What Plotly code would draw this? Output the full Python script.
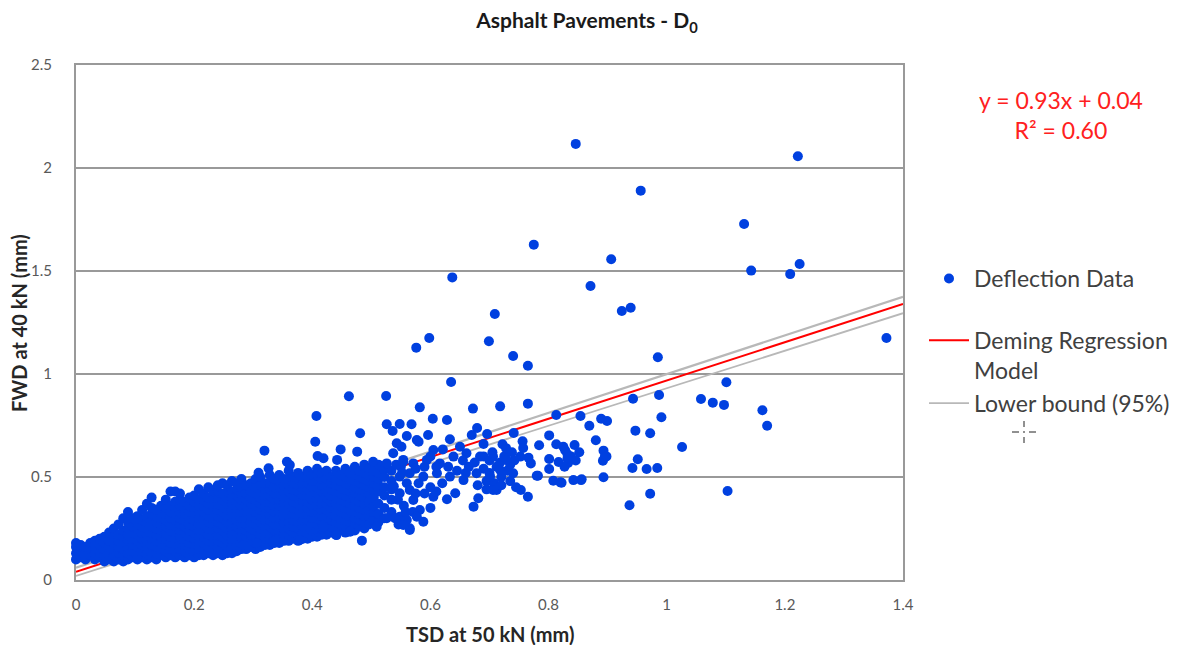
import plotly.graph_objects as go

# ---------------- data ----------------
# dense core of the cloud: one TSD value per column with the FWD values stacked in it
cluster_x = [0.000, 0.008, 0.016, 0.024, 0.032, 0.040, 0.048, 0.056, 0.064, 0.072,
             0.080, 0.088, 0.096, 0.104, 0.112, 0.120, 0.128, 0.136, 0.144, 0.152,
             0.160, 0.168, 0.176, 0.184, 0.192, 0.200, 0.208, 0.216, 0.224, 0.232,
             0.240, 0.248, 0.256, 0.264, 0.272, 0.280, 0.288, 0.296, 0.304, 0.312,
             0.320, 0.328, 0.336, 0.344, 0.352, 0.360, 0.368, 0.376, 0.384, 0.392,
             0.400, 0.408, 0.416, 0.424, 0.432, 0.440, 0.448, 0.456, 0.464, 0.472,
             0.480, 0.488, 0.496, 0.504, 0.512, 0.522, 0.534]
cluster_y = [
    [0.10, 0.13, 0.16, 0.18],
    [0.11, 0.14, 0.17],
    [0.10, 0.13, 0.16],
    [0.12, 0.15, 0.18],
    [0.10, 0.13, 0.16, 0.19],
    [0.11, 0.14, 0.17, 0.20],
    [0.09, 0.12, 0.15, 0.18, 0.21],
    [0.10, 0.13, 0.16, 0.19, 0.23],
    [0.09, 0.12, 0.15, 0.18, 0.21, 0.25],
    [0.10, 0.13, 0.16, 0.19, 0.22, 0.27],
    [0.09, 0.12, 0.15, 0.18, 0.21, 0.24, 0.30],
    [0.10, 0.13, 0.16, 0.19, 0.22, 0.25, 0.28, 0.33],
    [0.11, 0.14, 0.17, 0.20, 0.23, 0.26, 0.30],
    [0.10, 0.13, 0.16, 0.19, 0.22, 0.25, 0.28, 0.31],
    [0.11, 0.14, 0.17, 0.20, 0.23, 0.26, 0.29, 0.34],
    [0.10, 0.13, 0.16, 0.19, 0.22, 0.25, 0.28, 0.31, 0.37],
    [0.11, 0.14, 0.17, 0.20, 0.23, 0.26, 0.29, 0.32, 0.35, 0.40],
    [0.10, 0.13, 0.16, 0.19, 0.22, 0.25, 0.28, 0.31, 0.34],
    [0.12, 0.15, 0.18, 0.21, 0.24, 0.27, 0.30, 0.33, 0.36],
    [0.11, 0.14, 0.17, 0.20, 0.23, 0.26, 0.29, 0.32, 0.35, 0.39],
    [0.12, 0.15, 0.18, 0.21, 0.24, 0.27, 0.30, 0.33, 0.36, 0.43],
    [0.11, 0.14, 0.17, 0.20, 0.23, 0.26, 0.29, 0.32, 0.35, 0.38, 0.43],
    [0.12, 0.15, 0.18, 0.21, 0.24, 0.27, 0.30, 0.33, 0.36, 0.39, 0.42],
    [0.11, 0.14, 0.17, 0.20, 0.23, 0.26, 0.29, 0.32, 0.35, 0.38],
    [0.12, 0.15, 0.18, 0.21, 0.24, 0.27, 0.30, 0.33, 0.36, 0.40],
    [0.11, 0.14, 0.17, 0.20, 0.23, 0.26, 0.29, 0.32, 0.35, 0.38, 0.41],
    [0.12, 0.15, 0.18, 0.21, 0.24, 0.27, 0.30, 0.33, 0.36, 0.39, 0.44],
    [0.12, 0.15, 0.18, 0.21, 0.24, 0.27, 0.30, 0.33, 0.36, 0.39, 0.42],
    [0.13, 0.16, 0.19, 0.22, 0.25, 0.28, 0.31, 0.34, 0.37, 0.40, 0.45],
    [0.12, 0.15, 0.18, 0.21, 0.24, 0.27, 0.30, 0.33, 0.36, 0.39, 0.43],
    [0.13, 0.16, 0.19, 0.22, 0.25, 0.28, 0.31, 0.34, 0.37, 0.40, 0.43, 0.46],
    [0.12, 0.15, 0.18, 0.21, 0.24, 0.27, 0.30, 0.33, 0.36, 0.39, 0.42, 0.47],
    [0.13, 0.16, 0.19, 0.22, 0.25, 0.28, 0.31, 0.34, 0.37, 0.40, 0.43, 0.46],
    [0.13, 0.16, 0.19, 0.22, 0.25, 0.28, 0.31, 0.34, 0.37, 0.40, 0.43, 0.48],
    [0.14, 0.17, 0.20, 0.23, 0.26, 0.29, 0.32, 0.35, 0.38, 0.41, 0.44, 0.47],
    [0.15, 0.18, 0.21, 0.24, 0.27, 0.30, 0.33, 0.36, 0.39, 0.42, 0.45, 0.49],
    [0.15, 0.18, 0.21, 0.24, 0.27, 0.30, 0.33, 0.36, 0.39, 0.42, 0.46],
    [0.16, 0.19, 0.22, 0.25, 0.28, 0.31, 0.34, 0.37, 0.40, 0.43, 0.47],
    [0.15, 0.18, 0.21, 0.24, 0.27, 0.30, 0.33, 0.36, 0.39, 0.42, 0.45, 0.49],
    [0.16, 0.19, 0.22, 0.25, 0.28, 0.31, 0.34, 0.37, 0.40, 0.43, 0.46, 0.50],
    [0.17, 0.20, 0.23, 0.26, 0.29, 0.32, 0.35, 0.38, 0.41, 0.44, 0.47],
    [0.17, 0.20, 0.23, 0.26, 0.29, 0.32, 0.35, 0.38, 0.41, 0.44, 0.47, 0.51],
    [0.18, 0.21, 0.24, 0.27, 0.30, 0.33, 0.36, 0.39, 0.42, 0.45, 0.49],
    [0.18, 0.21, 0.24, 0.27, 0.30, 0.33, 0.36, 0.39, 0.42, 0.45, 0.48, 0.51],
    [0.19, 0.22, 0.25, 0.28, 0.31, 0.34, 0.37, 0.40, 0.43, 0.46, 0.49],
    [0.19, 0.22, 0.25, 0.28, 0.31, 0.34, 0.37, 0.40, 0.43, 0.46, 0.49, 0.53],
    [0.20, 0.23, 0.26, 0.29, 0.32, 0.35, 0.38, 0.41, 0.44, 0.47, 0.50],
    [0.19, 0.22, 0.25, 0.28, 0.31, 0.34, 0.37, 0.40, 0.43, 0.46, 0.49, 0.52],
    [0.20, 0.23, 0.26, 0.29, 0.32, 0.35, 0.38, 0.41, 0.44, 0.47, 0.50],
    [0.20, 0.23, 0.26, 0.29, 0.32, 0.35, 0.38, 0.41, 0.44, 0.47, 0.50, 0.53],
    [0.21, 0.24, 0.27, 0.30, 0.33, 0.36, 0.39, 0.42, 0.45, 0.48, 0.51],
    [0.21, 0.24, 0.27, 0.30, 0.33, 0.36, 0.39, 0.42, 0.45, 0.48, 0.51, 0.54],
    [0.22, 0.25, 0.28, 0.31, 0.34, 0.37, 0.40, 0.43, 0.46, 0.49, 0.52],
    [0.22, 0.25, 0.28, 0.31, 0.34, 0.37, 0.40, 0.43, 0.46, 0.49, 0.53],
    [0.23, 0.26, 0.29, 0.32, 0.35, 0.38, 0.41, 0.44, 0.47, 0.50],
    [0.22, 0.25, 0.28, 0.31, 0.34, 0.37, 0.40, 0.43, 0.46, 0.49, 0.53],
    [0.24, 0.27, 0.30, 0.33, 0.36, 0.39, 0.42, 0.45, 0.48, 0.51],
    [0.23, 0.26, 0.29, 0.32, 0.35, 0.38, 0.41, 0.44, 0.47, 0.50, 0.54],
    [0.25, 0.28, 0.31, 0.34, 0.37, 0.40, 0.43, 0.46, 0.49, 0.52],
    [0.24, 0.27, 0.30, 0.33, 0.36, 0.39, 0.42, 0.45, 0.48, 0.51, 0.55],
    [0.26, 0.29, 0.32, 0.35, 0.38, 0.41, 0.44, 0.47, 0.50, 0.53],
    [0.25, 0.28, 0.31, 0.34, 0.37, 0.40, 0.43, 0.46, 0.49, 0.52, 0.56],
    [0.27, 0.31, 0.34, 0.38, 0.42, 0.45, 0.48, 0.51, 0.54],
    [0.29, 0.33, 0.36, 0.40, 0.44, 0.47, 0.50, 0.53],
    [0.28, 0.32, 0.37, 0.43, 0.46, 0.49, 0.52, 0.56],
    [0.30, 0.35, 0.41, 0.45, 0.50, 0.54],
    [0.33, 0.39, 0.44, 0.48, 0.53],
]

# scattered points around and beyond the core (TSD, FWD)
scatter_points = [
    # high outliers
    (0.846, 2.117), (1.222, 2.057), (0.956, 1.890), (1.131, 1.728), (0.775, 1.628),
    (0.906, 1.557), (1.143, 1.502), (1.225, 1.534), (1.209, 1.485), (0.871, 1.427),
    (0.924, 1.306), (0.939, 1.322), (0.709, 1.291), (0.699, 1.159), (0.740, 1.087),
    (0.765, 1.040), (0.985, 1.081), (1.372, 1.175), (1.101, 0.960), (0.637, 1.469),
    (0.598, 1.175), (0.576, 1.128), (0.635, 0.961),
    # middle band, TSD 0.55 - 1.2
    (0.718, 0.843), (0.765, 0.856), (0.943, 0.880), (0.987, 0.898), (1.058, 0.879),
    (1.078, 0.861), (1.097, 0.850), (1.162, 0.824), (1.170, 0.749), (0.813, 0.801),
    (0.854, 0.796), (0.869, 0.749), (0.889, 0.783), (0.899, 0.772), (0.991, 0.790),
    (0.947, 0.725), (0.972, 0.712), (1.026, 0.646), (0.741, 0.714), (0.696, 0.709),
    (0.801, 0.702), (0.880, 0.678), (0.756, 0.673), (0.722, 0.659), (0.784, 0.654),
    (0.813, 0.659), (0.825, 0.647), (0.844, 0.655), (0.757, 0.641), (0.893, 0.628),
    (0.852, 0.620), (0.832, 0.610), (0.895, 0.596), (0.766, 0.594), (0.801, 0.587),
    (0.817, 0.573), (0.833, 0.568), (0.770, 0.566), (0.892, 0.579), (0.951, 0.586),
    (0.942, 0.544), (0.966, 0.539), (0.984, 0.544), (0.801, 0.539), (0.782, 0.506),
    (0.808, 0.482), (0.820, 0.474), (0.856, 0.489), (0.893, 0.499), (1.103, 0.432),
    (0.972, 0.419), (0.937, 0.363), (0.753, 0.437), (0.765, 0.404),
    (0.690, 0.600), (0.700, 0.580), (0.705, 0.620), (0.712, 0.550), (0.718, 0.570),
    (0.725, 0.600), (0.730, 0.530), (0.735, 0.560), (0.700, 0.520), (0.695, 0.480),
    (0.708, 0.470), (0.720, 0.500), (0.690, 0.660), (0.742, 0.580), (0.738, 0.620),
    (0.728, 0.640), (0.828, 0.630), (0.838, 0.600), (0.846, 0.580), (0.832, 0.590),
    (0.827, 0.550), (0.898, 0.600), (0.822, 0.472), (0.855, 0.485),
    (0.582, 0.838), (0.672, 0.832), (0.604, 0.783), (0.628, 0.777), (0.568, 0.756),
    (0.548, 0.757), (0.679, 0.738), (0.560, 0.699), (0.596, 0.704), (0.633, 0.683),
    (0.580, 0.671), (0.670, 0.704), (0.605, 0.631), (0.621, 0.634), (0.650, 0.647),
    (0.554, 0.583), (0.571, 0.566), (0.594, 0.583), (0.616, 0.566), (0.639, 0.599),
    (0.661, 0.615), (0.684, 0.599), (0.706, 0.599), (0.729, 0.583), (0.752, 0.599),
    (0.548, 0.502), (0.565, 0.518), (0.588, 0.502), (0.611, 0.518), (0.633, 0.502),
    (0.656, 0.485), (0.678, 0.518), (0.701, 0.502), (0.718, 0.534), (0.740, 0.518),
    (0.780, 0.506), (0.842, 0.485), (0.565, 0.437), (0.605, 0.404), (0.628, 0.392),
    (0.642, 0.421), (0.673, 0.356), (0.681, 0.397), (0.712, 0.437), (0.548, 0.421),
    (0.548, 0.307), (0.560, 0.291), (0.582, 0.340), (0.588, 0.283), (0.565, 0.251),
    (0.571, 0.388), (0.665, 0.550), (0.675, 0.570), (0.690, 0.540), (0.660, 0.520),
    (0.680, 0.460), (0.695, 0.440), (0.720, 0.460), (0.735, 0.480), (0.745, 0.450),
    (0.655, 0.580), (0.645, 0.530), (0.620, 0.470), (0.600, 0.450), (0.580, 0.470),
    (0.575, 0.540), (0.590, 0.550), (0.610, 0.550), (0.630, 0.550), (0.600, 0.600),
    (0.550, 0.550), (0.560, 0.470), (0.555, 0.360), (0.575, 0.420), (0.590, 0.420),
    (0.610, 0.430), (0.570, 0.330), (0.600, 0.350), (0.565, 0.243), (0.706, 0.437),
    (0.545, 0.390), (0.538, 0.455), (0.552, 0.520), (0.542, 0.560), (0.558, 0.330),
    (0.540, 0.300), (0.546, 0.270),
    # edges of the core, TSD 0.28 - 0.58
    (0.407, 0.796), (0.462, 0.892), (0.525, 0.893), (0.526, 0.756), (0.536, 0.723),
    (0.481, 0.712), (0.405, 0.671), (0.319, 0.628), (0.448, 0.634), (0.476, 0.623),
    (0.409, 0.602), (0.419, 0.591), (0.442, 0.583), (0.577, 0.680), (0.543, 0.664),
    (0.551, 0.647), (0.537, 0.615), (0.357, 0.574), (0.362, 0.558), (0.326, 0.542),
    (0.309, 0.521), (0.503, 0.574), (0.526, 0.566), (0.554, 0.574),
    (0.484, 0.191), (0.441, 0.218), (0.419, 0.259), (0.379, 0.194), (0.334, 0.186),
    (0.306, 0.178), (0.283, 0.170), (0.464, 0.234), (0.509, 0.259), (0.526, 0.300),
    (0.554, 0.267), (0.577, 0.307),
]

# regression line and 95 % bounds (end points)
line_x = [0.0, 1.4]
model_y = [0.040, 1.340]
upper_y = [0.060, 1.375]
lower_y = [0.020, 1.295]

x_ticks = [0, 0.2, 0.4, 0.6, 0.8, 1.0, 1.2, 1.4]
y_ticks = [0, 0.5, 1.0, 1.5, 2.0, 2.5]

# ---------------- assemble ----------------
pts_x, pts_y = [], []
for cx, ys in zip(cluster_x, cluster_y):
    for cy in ys:
        pts_x.append(cx)
        pts_y.append(cy)
for px_, py_ in scatter_points:
    pts_x.append(px_)
    pts_y.append(py_)

FONT = "Lato"
BLUE = "#0040E0"

# plot-area geometry in pixels (from the reference)
L, R, T, B = 76, 903, 65, 580
W, H = 1181, 645
def px2paper(x, y):
    return (x - L) / (R - L), (B - y) / (B - T)

fig = go.Figure()
# lines first so the cloud of points sits on top of them
fig.add_trace(go.Scatter(
    x=line_x, y=upper_y, mode="lines", showlegend=False,
    line=dict(color="#b8b8b8", width=2.2)))
fig.add_trace(go.Scatter(
    x=line_x, y=model_y, mode="lines", name="Deming Regression<br>Model",
    line=dict(color="#ff0000", width=2), legendgroup="b", legendrank=2))
fig.add_trace(go.Scatter(
    x=line_x, y=lower_y, mode="lines", name="Lower bound (95%)",
    line=dict(color="#b8b8b8", width=1.8), legendgroup="b", legendrank=3))
fig.add_trace(go.Scatter(
    x=pts_x, y=pts_y, mode="markers", name="Deflection Data",
    marker=dict(color=BLUE, size=10, line=dict(width=0)),
    cliponaxis=False, legendgroup="a", legendrank=1))

lx, ly = px2paper(924, 257)
fig.update_layout(
    width=W, height=H,
    margin=dict(l=L, r=W - R, t=T, b=H - B, autoexpand=False),
    paper_bgcolor="white", plot_bgcolor="white",
    font=dict(family=FONT, color="#404040"),
    title=dict(text="<b>Asphalt Pavements - D<sub>0</sub></b>",
               x=587 / W, xanchor="center", y=1 - 21 / H, yanchor="middle",
               font=dict(family=FONT, size=21, color="#1a1a1a")),
    showlegend=True,
    legend=dict(x=lx, xanchor="left", y=ly, yanchor="top",
                font=dict(family=FONT, size=23, color="#404040"),
                tracegroupgap=29, valign="top", itemwidth=40,
                traceorder="grouped",
                bgcolor="rgba(0,0,0,0)"),
    xaxis=dict(range=[0, 1.4], tickvals=x_ticks, ticktext=[f"{v:g}" for v in x_ticks],
               showgrid=False, zeroline=False, showline=True, mirror=True,
               linecolor="#999999", linewidth=2, ticks="", layer="below traces",
               ticklabelstandoff=10, automargin=False,
               tickfont=dict(family=FONT, size=15, color="#595959")),
    yaxis=dict(range=[0, 2.5], tickvals=y_ticks, ticktext=[f"{v:g}" for v in y_ticks],
               showgrid=True, gridcolor="#999999", gridwidth=2, zeroline=False,
               showline=True, mirror=True, linecolor="#999999", linewidth=2,
               ticks="", layer="below traces", ticklabelstandoff=19, automargin=False,
               tickfont=dict(family=FONT, size=15, color="#595959")),
)

# axis titles
ax, ay = px2paper(490, 634)
fig.add_annotation(text="<b>TSD at 50 kN (mm)</b>", xref="paper", yref="paper",
                   x=ax, y=ay, xanchor="center", yanchor="middle", showarrow=False,
                   font=dict(family=FONT, size=20, color="#262626"))
ax, ay = px2paper(19, 323)
fig.add_annotation(text="<b>FWD at 40 kN (mm)</b>", xref="paper", yref="paper",
                   x=ax, y=ay, xanchor="center", yanchor="middle", showarrow=False,
                   textangle=-90, font=dict(family=FONT, size=20, color="#262626"))

# equation text
ex, ey = px2paper(1061, 115)
fig.add_annotation(text="y = 0.93x + 0.04<br>R² = 0.60", xref="paper", yref="paper",
                   x=ex, y=ey, xanchor="center", yanchor="middle",
                   showarrow=False, align="center",
                   font=dict(family=FONT, size=23, color="#ff2020"))

# little cursor cross in the picture
cx0, cy0 = 1024, 432
for (x1, y1, x2, y2) in [(cx0, cy0 - 11, cx0, cy0 - 5), (cx0, cy0 + 5, cx0, cy0 + 11),
                         (cx0 - 12, cy0, cx0 - 5, cy0), (cx0 + 5, cy0, cx0 + 12, cy0),
                         (cx0, cy0 - 1, cx0, cy0 + 1)]:
    a, b = px2paper(x1, y1)
    c, d = px2paper(x2, y2)
    fig.add_shape(type="line", xref="paper", yref="paper", x0=a, y0=b, x1=c, y1=d,
                  line=dict(color="#222222", width=1))

fig.write_html("out.html")
